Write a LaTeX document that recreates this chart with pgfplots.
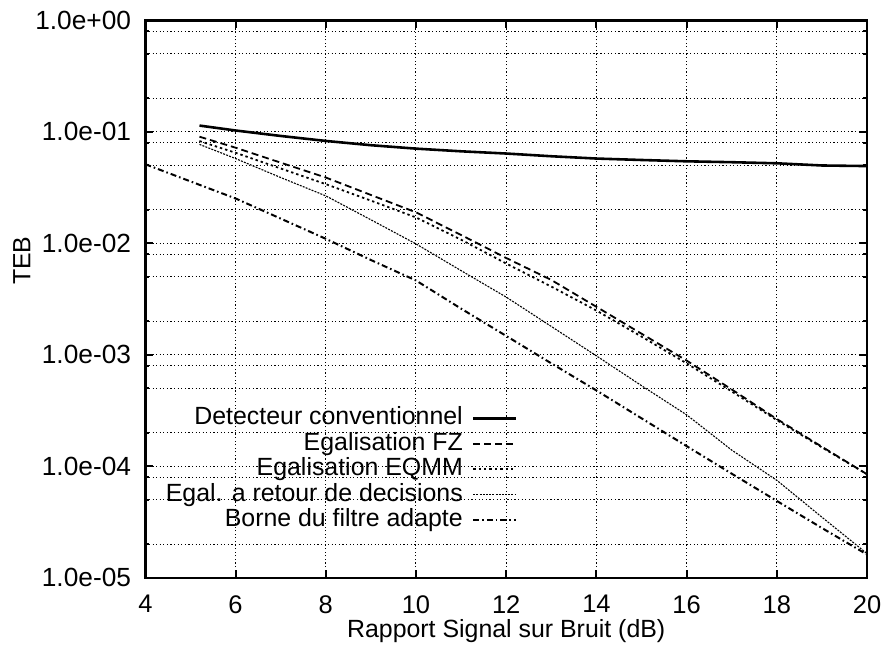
\documentclass[border=0pt]{standalone}
\usepackage{pgfplots}
\pgfplotsset{compat=1.18}
\usepackage{fontspec}
\setmainfont{Liberation Sans}
\usetikzlibrary{calc}
\begin{document}
\fontsize{12.5}{15}\selectfont
\begin{tikzpicture}
\begin{axis}[
    scale only axis,
    width=362.5pt, height=280pt,
    ymode=log,
    xmin=4, xmax=20, ymin=1e-5, ymax=1,
    xtick={4,6,...,20},
    ytick={1e-5,1e-4,1e-3,1e-2,1e-1,1},
    yticklabels={1.0e-05,1.0e-04,1.0e-03,1.0e-02,1.0e-01,1.0e+00},
    minor ytick={2e-5,5e-5,8e-5,2e-4,5e-4,8e-4,2e-3,5e-3,8e-3,2e-2,5e-2,8e-2,0.2,0.5,0.8},
    /pgf/number format/assume math mode=true,
    grid=both,
    grid style={black, line width=0.5pt, dash pattern=on 0.6pt off 1.2pt},
    minor grid style={black, line width=0.5pt, dash pattern=on 0.6pt off 1.2pt},
    axis line style={line width=1.2pt},
    major tick length=4pt, minor tick length=2pt,
    tick style={line width=1pt, black},
    yticklabel style={anchor=east, inner sep=0pt, xshift=-7pt, font=\fontsize{13.2}{16}\selectfont},
    xticklabel style={anchor=north, inner sep=0pt, yshift=-8.5pt, font=\fontsize{12.8}{15}\selectfont},
    xlabel={Rapport Signal sur Bruit (dB)},
    ylabel={TEB},
    xlabel style={at={(axis description cs:0.5,-0.095)}, anchor=center, inner sep=0pt},
    ylabel style={at={(axis description cs:-0.171,0.569)}, anchor=center, inner sep=0pt},
    legend plot pos=right,
    legend image code/.code={\draw[#1] (0pt,0pt) -- (21.5pt,0pt);},
    legend style={draw=none, fill=none, inner sep=0pt,
        at={(axis description cs:0.516,0.31)}, anchor=north east,
        row sep=0pt, column sep=4pt,
        nodes={inner sep=0.6pt, text height=9pt, text depth=2.6pt},
        cells={anchor=east}},
]
\addplot[black, line width=1.3pt] coordinates {
(5.2,0.114) (6,0.103) (7,0.092) (8,0.083) (9,0.076) (10,0.0708) (11,0.067) (12,0.064)
(13,0.0605) (14,0.0577) (15,0.056) (16,0.0545) (17,0.0535) (18,0.0523) (19,0.0500) (20,0.0494)};
\addlegendentry{Detecteur conventionnel}
\addplot[black, line width=0.9pt, dash pattern=on 3.5pt off 2pt] coordinates {
(5.2,0.0906) (6,0.0722) (7,0.053) (8,0.039) (9,0.0272) (10,0.019) (11,0.0119) (12,0.0074)
(13,0.0047) (14,0.0027) (15,0.00155) (16,0.00089) (17,0.00049) (18,0.000266) (19,0.000150) (20,0.000085)};
\addlegendentry{Egalisation FZ}
\addplot[black, line width=0.9pt, dash pattern=on 1.2pt off 1.5pt] coordinates {
(5.2,0.0828) (6,0.065) (7,0.047) (8,0.034) (9,0.0242) (10,0.0171) (11,0.0108) (12,0.0066)
(13,0.0041) (14,0.0025) (15,0.00146) (16,0.00084) (17,0.00047) (18,0.00026) (19,0.000148) (20,0.000085)};
\addlegendentry{Egalisation EQMM}
\addplot[black, line width=0.55pt, dash pattern=on 1pt off 0.6pt] coordinates {
(5.2,0.0773) (6,0.0577) (7,0.039) (8,0.0267) (9,0.0163) (10,0.0099) (11,0.0057) (12,0.0033)
(13,0.0018) (14,0.00098) (15,0.00053) (16,0.00029) (17,0.00014) (18,0.000075) (19,0.000035) (20,0.0000165)};
\addlegendentry{Egal. a retour de decisions}
\addplot[black, line width=1pt, dash pattern=on 3pt off 1.5pt on 0.8pt off 1.5pt] coordinates {
(4,0.0513) (5,0.036) (6,0.0253) (7,0.0167) (8,0.011) (9,0.0071) (10,0.00465) (11,0.0026)
(12,0.00148) (13,0.00084) (14,0.00048) (15,0.00027) (16,0.000152) (17,0.000086) (18,0.000049) (19,0.000028) (20,0.0000162)};
\addlegendentry{Borne du filtre adapte}
\end{axis}
\pgfresetboundingbox
\path[use as bounding box] ($(current axis.south west)+(-73pt,-34.75pt)$) rectangle ($(current axis.north east)+(8pt,10.25pt)$);
\end{tikzpicture}
\end{document}
